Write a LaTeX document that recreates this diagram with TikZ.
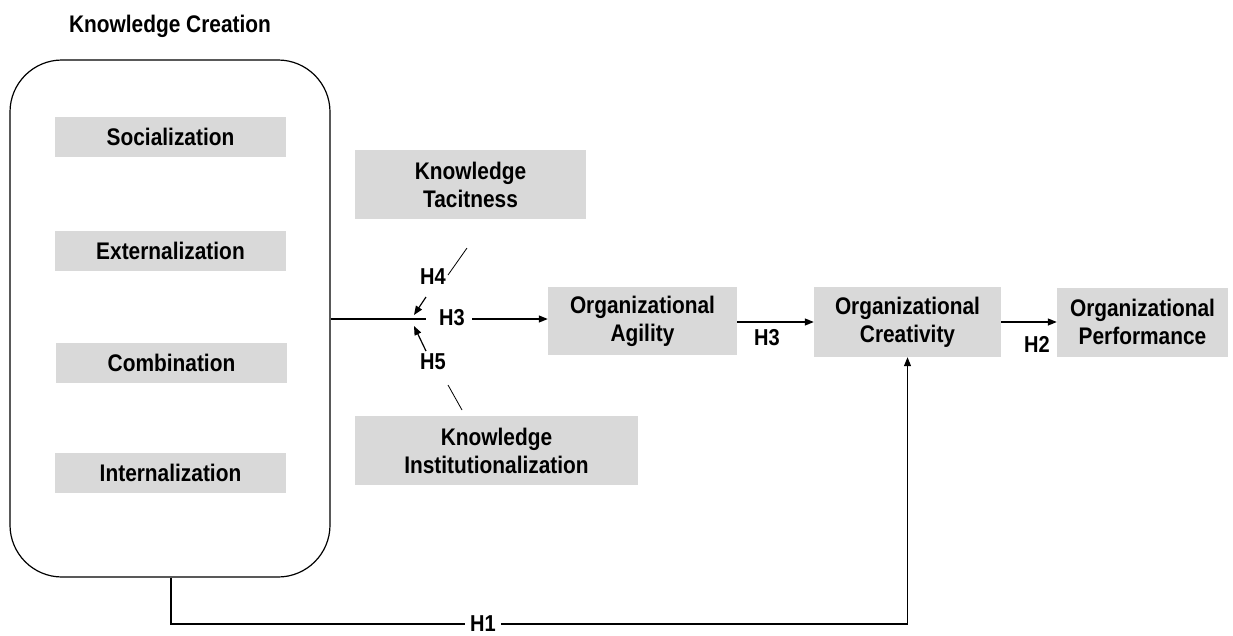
\documentclass[tikz,border=0pt]{standalone}
\usepackage{fontspec}
\setmainfont{Liberation Sans}[FakeStretch=0.87]
\usetikzlibrary{arrows.meta}
\definecolor{boxgrey}{HTML}{D9D9D9}
\tikzset{
  greybox/.style={fill=boxgrey, draw=none, align=center, inner sep=0pt,
    font=\fontsize{24}{28}\selectfont\bfseries},
  hlabel/.style={inner sep=1pt, font=\fontsize{23}{26}\selectfont\bfseries},
  conn/.style={line width=1.2pt, draw=black},
  arr/.style={conn, -{Triangle[length=9pt,width=7pt]}},
  thin/.style={line width=0.8pt}
}
\begin{document}
\begin{tikzpicture}[x=1pt,y=-1pt]
\useasboundingbox (0,0) rectangle (1233,635);
% title
\node[font=\fontsize{24}{28}\selectfont\bfseries] (title) at (170,26) {Knowledge Creation};
% outer rounded box
\node[draw, line width=1.2pt, rounded corners=52pt, minimum width=320pt, minimum height=517pt, inner sep=0pt] (kc) at (170,318.5) {};
% inner boxes
\node[greybox, minimum width=231pt, minimum height=40pt] (soc) at (170.5,137) {Socialization};
\node[greybox, minimum width=231pt, minimum height=40pt] (ext) at (170.5,251) {Externalization};
\node[greybox, minimum width=231pt, minimum height=40pt] (comb) at (171.5,363) {Combination};
\node[greybox, minimum width=231pt, minimum height=40pt] (int) at (170.5,473) {Internalization};
% moderators
\node[greybox, minimum width=231pt, minimum height=69pt] (tac) at (470.5,184.5) {Knowledge\\Tacitness};
\node[greybox, minimum width=283pt, minimum height=69pt] (inst) at (496.5,450.5) {Knowledge\\Institutionalization};
% main chain
\node[greybox, minimum width=189pt, minimum height=68pt] (agi) at (642.5,321) {Organizational\\Agility};
\node[greybox, minimum width=187pt, minimum height=70pt] (cre) at (907.5,322) {Organizational\\Creativity};
\node[greybox, minimum width=171pt, minimum height=69pt] (perf) at (1142.5,322) {Organizational\\Performance};
% labels
\node[hlabel] (h4) at (433,277) {H4};
\node[hlabel] (h5) at (433,362) {H5};
\node[hlabel] (h3a) at (452,318) {H3};
\node[hlabel] (h3b) at (767,338) {H3};
\node[hlabel] (h2) at (1037,344) {H2};
\node[hlabel, inner sep=5pt] (h1) at (483,624) {H1};
% coordinates
\coordinate (jend) at (426,319);
\coordinate (h4s) at (426,297);
\coordinate (h4e) at (414,315);
\coordinate (h5s) at (426,351);
\coordinate (h5e) at (414,326);
\coordinate (t1) at (448,275);
\coordinate (t2) at (467,248);
\coordinate (i1) at (448,385);
\coordinate (i2) at (462,410);
% connectors
\draw[conn] (kc.east |- jend) -- (jend);
\draw[arr] (h4s) -- (h4e);
\draw[arr] (h5s) -- (h5e);
\draw[thin] (t1) -- (t2);
\draw[thin] (i1) -- (i2);
\draw[arr] (472,319) -- (agi.west |- 0,319);
\draw[arr] (agi.east |- 0,322) -- (cre.west |- 0,322);
\draw[arr] (cre.east |- 0,322) -- (perf.west |- 0,322);
\draw[conn] ([xshift=1pt]kc.south) |- (h1.west);
\draw[arr] (h1.east) -| (cre.south);
\end{tikzpicture}
\end{document}
